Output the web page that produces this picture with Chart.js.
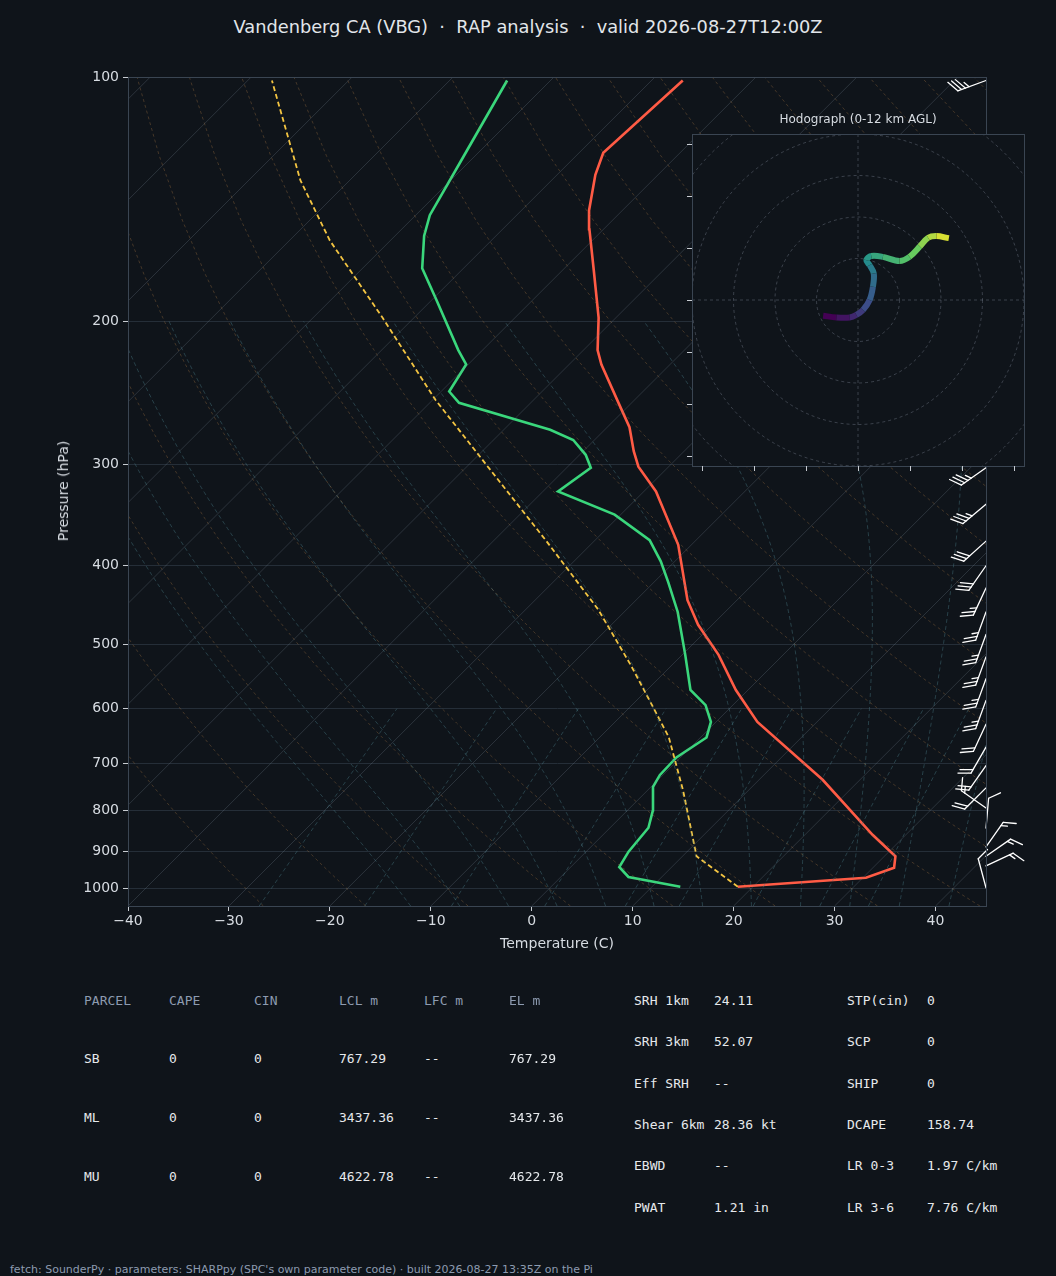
<!DOCTYPE html>
<html>
<head>
<meta charset="utf-8">
<script src="https://cdn.jsdelivr.net/npm/chart.js@4.4.1/dist/chart.umd.min.js"></script>
<style>
  html, body { margin: 0; padding: 0; background: #0f141a; }
  body { width: 1056px; height: 1276px; position: relative; overflow: hidden; font-family: "DejaVu Sans", sans-serif; color: #d7dce2; }
  #skew { position: absolute; left: 0; top: 0; }
  #hodo { position: absolute; left: 680px; top: 108px; }
  .title { position: absolute; top: 16px; left: 0; width: 1056px; text-align: center; font-size: 17.8px; color: #e2e6ea; white-space: pre; }
  .ylab { position: absolute; left: 63px; top: 491px; transform: translate(-50%, -50%) rotate(-90deg); font-size: 14px; color: #d7dce2; white-space: nowrap; }
  .xlab { position: absolute; left: 557px; top: 943px; transform: translate(-50%, -50%); font-size: 14px; color: #d7dce2; }
  .t { position: absolute; font-family: "DejaVu Sans Mono", monospace; font-size: 13px; color: #e6e9ec; white-space: pre; transform: translateY(-50%); }
  .h { color: #8d9bb0; }
  .foot { position: absolute; left: 10px; top: 1263px; font-size: 11px; color: #8d9bb0; white-space: pre; }
</style>
</head>
<body>
<div class="title">Vandenberg CA (VBG)  ·  RAP analysis  ·  valid 2026-08-27T12:00Z</div>
<canvas id="skew" width="1056" height="960"></canvas>
<canvas id="hodo" width="356" height="372"></canvas>
<div class="ylab">Pressure (hPa)</div>
<div class="xlab">Temperature (C)</div>
<div id="table"></div>
<div class="foot">fetch: SounderPy · parameters: SHARPpy (SPC's own parameter code) · built 2026-08-27 13:35Z on the Pi</div>
<script>
// ---- sounding data ----
const tempP = [994, 969, 942, 912, 858, 734, 623, 569, 515, 473, 441, 377, 324, 302, 289, 270, 252, 226, 217, 198, 173, 154, 146, 132, 124, 101];
const tempC = [18.5, 30.3, 32.1, 31.1, 26.7, 16.3, 4.1, -1.2, -6.4, -11.4, -14.9, -21.3, -28.8, -33.0, -35.0, -37.8, -41.3, -46.8, -48.6, -51.7, -56.9, -61.4, -63.3, -66.2, -67.6, -66.9];

const dewP = [994, 967, 940, 900, 841, 800, 749, 724, 689, 651, 623, 594, 569, 515, 456, 419, 395, 372, 346, 324, 303, 292, 280, 272, 252, 244, 226, 217, 188, 172, 157, 148, 126, 101];
const dewC = [12.8, 6.7, 4.8, 4.2, 3.8, 2.5, 0.2, -0.3, -0.4, 0.6, -0.5, -2.7, -5.7, -9.7, -14.7, -18.6, -21.4, -24.6, -30.6, -38.5, -37.6, -39.4, -42.1, -45.4, -57.1, -59.2, -60.2, -62.4, -69.6, -74.1, -77.1, -78.6, -81.0, -84.3];

const parcelP = [994, 912, 756, 650, 594, 530, 453, 372, 305, 250, 198, 159, 134, 101];
const parcelC = [18.5, 11.4, 3.5, -3.2, -8.0, -14.1, -22.8, -34.9, -47.3, -59.7, -73.1, -86.0, -94.9, -107.6];

// wind barbs: pressure (hPa), speed (kt), direction from (deg)
const barbP = [101, 150, 200, 250, 303, 336, 373, 400, 426, 456, 486, 518, 551, 586, 627, 669, 705, 751, 795, 842, 888, 912, 937, 997];
const barbSpd = [35, 35, 35, 35, 35, 35, 30, 30, 25, 25, 25, 25, 25, 25, 20, 20, 20, 20, 15, 10, 15, 15, 15, 10];
const barbDir = [250, 240, 240, 240, 235, 230, 228, 215, 205, 200, 200, 200, 200, 200, 205, 210, 215, 225, 305, 5, 35, 55, 65, 345];

// hodograph (kt)
const hodoU = [-8.4, -5.2, -2.0, -0.4, 1.2, 2.8, 3.6, 3.8, 2.8, 2.0, 3.2, 6.0, 10.0, 12.4, 14.9, 16.9, 18.9, 21.9];
const hodoV = [-3.8, -4.2, -4.2, -3.6, -2.4, 0.0, 3.2, 6.4, 8.4, 9.6, 10.6, 10.4, 9.4, 10.4, 12.9, 15.0, 15.4, 14.9];

const pTicks = [100, 200, 300, 400, 500, 600, 700, 800, 900, 1000];
const tTicks = [-40, -30, -20, -10, 0, 10, 20, 30, 40];

// parameter table
const parcelRows = [
  ['PARCEL', 'CAPE', 'CIN', 'LCL m', 'LFC m', 'EL m'],
  ['SB', '0', '0', '767.29', '--', '767.29'],
  ['ML', '0', '0', '3437.36', '--', '3437.36'],
  ['MU', '0', '0', '4622.78', '--', '4622.78']
];
const kinRows = [
  ['SRH 1km', '24.11', 'STP(cin)', '0'],
  ['SRH 3km', '52.07', 'SCP', '0'],
  ['Eff SRH', '--', 'SHIP', '0'],
  ['Shear 6km', '28.36 kt', 'DCAPE', '158.74'],
  ['EBWD', '--', 'LR 0-3', '1.97 C/km'],
  ['PWAT', '1.21 in', 'LR 3-6', '7.76 C/km']
];

// ---- skew-T geometry ----
const PBOT = 1050, PTOP = 100;
const SKEW = 80.5; // deg C of x-shift per decade of pressure (45 deg on screen)
const sx = (t, p) => t + SKEW * Math.log10(PBOT / p);
const pts = (ps, ts) => ps.map((p, i) => ({ x: sx(ts[i], p), y: p }));

// background guide lines
const guides = [];
const levels = [];
for (let p = 1050; p >= 100; p -= 25) levels.push(p);
for (let t = -130; t <= 40; t += 10) {
  guides.push({ data: [{ x: sx(t, 1050), y: 1050 }, { x: sx(t, 100), y: 100 }], borderColor: 'rgba(120,132,146,0.28)', borderWidth: 1 });
}
for (let th = -30; th <= 200; th += 10) {
  guides.push({ data: levels.map(p => ({ x: sx((th + 273.15) * Math.pow(p / 1000, 0.2857) - 273.15, p), y: p })),
    borderColor: 'rgba(170,120,70,0.35)', borderWidth: 1, borderDash: [3, 3] });
}
function satMix(tc, p) {
  const es = 6.112 * Math.exp(17.67 * tc / (tc + 243.5));
  return 0.622 * es / (p - es);
}
for (let t0 = -15; t0 <= 40; t0 += 5) {
  const up = [{ x: sx(t0, 1000), y: 1000 }], down = [];
  const step = (T, p, dp) => {
    const rs = satMix(T - 273.15, p);
    const g = (287 * T + 2.5e6 * rs) / (1004 + 2.5e6 * 2.5e6 * rs * 0.622 / (287 * T * T)) / p;
    return T + g * dp;
  };
  let Tu = t0 + 273.15;
  for (let pp = 1000; pp > 200; pp -= 5) { Tu = step(Tu, pp, -5); up.push({ x: sx(Tu - 273.15, pp - 5), y: pp - 5 }); }
  let Td = t0 + 273.15;
  for (let pp = 1000; pp < 1050; pp += 5) { Td = step(Td, pp, 5); down.push({ x: sx(Td - 273.15, pp + 5), y: pp + 5 }); }
  guides.push({ data: down.reverse().concat(up), borderColor: 'rgba(70,120,130,0.45)', borderWidth: 1, borderDash: [4, 3] });
}
[0.0004, 0.001, 0.002, 0.004, 0.007, 0.01, 0.016, 0.024, 0.032].forEach(w => {
  const d = [];
  for (let p = 1050; p >= 600; p -= 25) {
    const e = p * w / (0.622 + w), l = Math.log(e / 6.112);
    d.push({ x: sx(243.5 * l / (17.67 - l), p), y: p });
  }
  guides.push({ data: d, borderColor: 'rgba(70,120,130,0.45)', borderWidth: 1, borderDash: [4, 3] });
});
guides.forEach(g => { g.pointRadius = 0; g.showLine = true; g.fill = false; });

// wind barbs plugin
const barbPlugin = {
  id: 'barbs',
  afterDatasetsDraw(chart) {
    const ctx = chart.ctx, ys = chart.scales.y, x0 = chart.chartArea.right;
    ctx.save();
    ctx.strokeStyle = '#ffffff'; ctx.lineWidth = 1.3; ctx.lineCap = 'round';
    barbP.forEach((p, i) => {
      const y0 = ys.getPixelForValue(p), a = barbDir[i] * Math.PI / 180, L = 30;
      const dx = Math.sin(a), dy = -Math.cos(a);
      const px = -dy, py = dx; // feather side
      ctx.beginPath();
      ctx.moveTo(x0, y0); ctx.lineTo(x0 + dx * L, y0 + dy * L); ctx.stroke();
      let s = Math.round(barbSpd[i] / 5) * 5, pos = L;
      const fx = px * 0.87 + dx * 0.5, fy = py * 0.87 + dy * 0.5;
      while (s >= 10) {
        ctx.beginPath();
        ctx.moveTo(x0 + dx * pos, y0 + dy * pos);
        ctx.lineTo(x0 + dx * pos + fx * 13, y0 + dy * pos + fy * 13); ctx.stroke();
        pos -= 4; s -= 10;
      }
      if (s >= 5) {
        if (pos === L) pos -= 4;
        ctx.beginPath();
        ctx.moveTo(x0 + dx * pos, y0 + dy * pos);
        ctx.lineTo(x0 + dx * pos + fx * 6.5, y0 + dy * pos + fy * 6.5); ctx.stroke();
      }
    });
    ctx.restore();
  }
};
const frame = {
  id: 'frame',
  afterDraw(chart) {
    const { left, right, top, bottom } = chart.chartArea, ctx = chart.ctx;
    ctx.save(); ctx.strokeStyle = '#3a4552'; ctx.lineWidth = 1;
    ctx.strokeRect(left + 0.5, top + 0.5, right - left, bottom - top); ctx.restore();
  }
};

const tickFont = { family: 'DejaVu Sans', size: 14 };
new Chart(document.getElementById('skew'), {
  type: 'scatter',
  data: {
    datasets: guides.concat([
      { data: pts(parcelP, parcelC), borderColor: '#f4c542', borderWidth: 1.8, borderDash: [5, 3], showLine: true, pointRadius: 0 },
      { data: pts(tempP, tempC), borderColor: '#ff5b45', borderWidth: 2.6, showLine: true, pointRadius: 0 },
      { data: pts(dewP, dewC), borderColor: '#3ad77c', borderWidth: 2.6, showLine: true, pointRadius: 0 }
    ])
  },
  options: {
    responsive: false, animation: false, events: [],
    layout: { padding: { left: 0, top: 77, right: 70, bottom: 0 } },
    plugins: { legend: { display: false }, tooltip: { enabled: false } },
    scales: {
      x: {
        type: 'linear', min: -40, max: 45,
        afterBuildTicks: s => { s.ticks = tTicks.map(v => ({ value: v })); },
        afterFit: s => { s.height = 54; },
        grid: { drawOnChartArea: false, color: '#c8ccd2', tickLength: 5 },
        border: { color: '#3a4552' },
        ticks: { color: '#d7dce2', font: tickFont, padding: 2, maxRotation: 0, callback: v => String(v).replace('-', '\u2212') }
      },
      y: {
        type: 'logarithmic', min: PTOP, max: PBOT, reverse: true,
        afterBuildTicks: s => { s.ticks = pTicks.map(v => ({ value: v })); },
        afterFit: s => { s.width = 128; },
        grid: { color: '#252e38', tickLength: 5, tickColor: '#c8ccd2' },
        border: { color: '#3a4552' },
        ticks: { color: '#d7dce2', font: tickFont, padding: 4, callback: v => String(v) }
      }
    }
  },
  plugins: [barbPlugin, frame]
});

// ---- hodograph ----
const viridis = [[68, 1, 84], [59, 82, 139], [33, 145, 140], [94, 201, 98], [253, 231, 37]];
function vcol(f) {
  const s = f * (viridis.length - 1), i = Math.min(Math.floor(s), viridis.length - 2), r = s - i;
  const c = viridis[i].map((v, k) => Math.round(v + (viridis[i + 1][k] - v) * r));
  return `rgb(${c[0]},${c[1]},${c[2]})`;
}
const hodoDeco = {
  id: 'hodoDeco',
  beforeDatasetsDraw(chart) {
    const { left, right, top, bottom } = chart.chartArea, ctx = chart.ctx;
    const xs = chart.scales.x, ys = chart.scales.y;
    const cx = xs.getPixelForValue(0), cy = ys.getPixelForValue(0), r10 = xs.getPixelForValue(10) - cx;
    ctx.save();
    ctx.fillStyle = '#0f141a'; ctx.fillRect(left, top, right - left, bottom - top);
    ctx.beginPath(); ctx.rect(left, top, right - left, bottom - top); ctx.clip();
    ctx.strokeStyle = 'rgba(140,150,165,0.35)'; ctx.lineWidth = 1; ctx.setLineDash([3, 3]);
    for (let k = 1; k <= 6; k++) { ctx.beginPath(); ctx.arc(cx, cy, r10 * k, 0, Math.PI * 2); ctx.stroke(); }
    ctx.beginPath(); ctx.moveTo(left, cy); ctx.lineTo(right, cy); ctx.moveTo(cx, top); ctx.lineTo(cx, bottom); ctx.stroke();
    ctx.restore();
  },
  afterDraw(chart) {
    const { left, right, top, bottom } = chart.chartArea, ctx = chart.ctx, xs = chart.scales.x, ys = chart.scales.y;
    ctx.save();
    ctx.strokeStyle = '#3a4552'; ctx.lineWidth = 1;
    ctx.strokeRect(left + 0.5, top + 0.5, right - left, bottom - top);
    ctx.strokeStyle = '#c8ccd2';
    [-37.5, -25, -12.5, 0, 12.5, 25, 37.5].forEach(v => {
      const x = Math.round(xs.getPixelForValue(v)) + 0.5, y = Math.round(ys.getPixelForValue(v)) + 0.5;
      ctx.beginPath(); ctx.moveTo(x, bottom); ctx.lineTo(x, bottom + 5); ctx.moveTo(left, y); ctx.lineTo(left - 5, y); ctx.stroke();
    });
    ctx.fillStyle = '#d7dce2'; ctx.font = '12px "DejaVu Sans"'; ctx.textAlign = 'center'; ctx.textBaseline = 'middle';
    ctx.fillText('Hodograph (0-12 km AGL)', (left + right) / 2, top - 14);
    ctx.restore();
  }
};
new Chart(document.getElementById('hodo'), {
  type: 'line',
  data: {
    datasets: [{
      data: hodoU.map((u, i) => ({ x: u, y: hodoV[i] })),
      borderWidth: 6, pointRadius: 0, tension: 0.35, borderCapStyle: 'butt', borderJoinStyle: 'round',
      borderColor: vcol(0.5),
      segment: { borderColor: c => vcol(c.p0DataIndex / (hodoU.length - 1)) }
    }]
  },
  options: {
    responsive: false, animation: false, events: [],
    layout: { padding: { left: 12, top: 26, right: 12, bottom: 14 } },
    plugins: { legend: { display: false }, tooltip: { enabled: false } },
    scales: { x: { type: 'linear', min: -40, max: 40, display: false }, y: { type: 'linear', min: -40, max: 40, display: false } }
  },
  plugins: [hodoDeco]
});

// ---- table ----
const tbl = document.getElementById('table');
const put = (txt, x, y, cls) => { const d = document.createElement('div'); d.className = 't' + (cls ? ' ' + cls : ''); d.textContent = txt; d.style.left = x + 'px'; d.style.top = y + 'px'; tbl.appendChild(d); };
const pCols = [84, 169, 254, 339, 424, 509], pRowsY = [1000, 1058, 1117, 1176];
parcelRows.forEach((r, i) => r.forEach((c, j) => put(c, pCols[j], pRowsY[i], i === 0 ? 'h' : '')));
const kCols = [634, 714, 847, 927], kRowsY = [1000, 1041, 1083, 1124, 1165, 1207];
kinRows.forEach((r, i) => r.forEach((c, j) => put(c, kCols[j], kRowsY[i])));
</script>
</body>
</html>
